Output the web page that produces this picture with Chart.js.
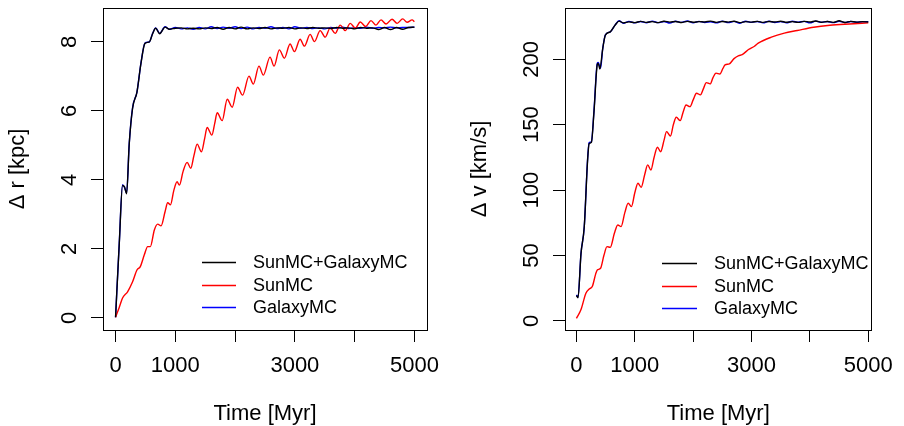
<!DOCTYPE html>
<html><head><meta charset="utf-8">
<script src="https://cdn.jsdelivr.net/npm/chart.js@4/dist/chart.umd.min.js"></script>
<style>
html,body{margin:0;padding:0;background:#fff;}
#wrap{position:relative;width:904px;height:426px;overflow:hidden;}
.panel{position:absolute;top:0;width:452px;height:426px;}
canvas{display:block;}
</style></head><body>
<div id="wrap">
<div class="panel" style="left:0"><canvas id="c1" width="452" height="426"></canvas></div>
<div class="panel" style="left:452px"><canvas id="c2" width="452" height="426"></canvas></div>
</div>
<script>
// ---------- labels ----------
const seriesNames = ['SunMC+GalaxyMC', 'SunMC', 'GalaxyMC'];
const xTickValues = [0, 1000, 2000, 3000, 4000, 5000];
const xTickLabels = ['0', '1000', '', '3000', '', '5000'];
const drTickValues = [0, 2, 4, 6, 8];
const dvTickValues = [0, 50, 100, 150, 200];
const xTitle = 'Time [Myr]';
const drTitle = 'Δ r [kpc]';
const dvTitle = 'Δ v [km/s]';

// ---------- Δr panel ----------
const drBothT = [0,62,117,150,185,229,285,358,425,492,565,620,671,738,828,900,1000,1100,1200,1300,1400,1500,1600,1700,1800,1900,2000,2100,2200,2300,2400,2500,2600,2700,2800,2900,3000,3100,3200,3300,3400,3500,3600,3700,3800,3900,4000,4100,4200,4300,4400,4500,4600,4700,4800,4900,5000];
const drBothV = [0.02,2.15,3.84,3.80,3.60,5.05,6.08,6.55,7.38,7.96,8.00,8.24,8.40,8.24,8.43,8.37,8.40,8.41,8.38,8.40,8.38,8.41,8.39,8.42,8.37,8.42,8.38,8.43,8.38,8.41,8.39,8.42,8.38,8.41,8.40,8.42,8.38,8.41,8.39,8.42,8.40,8.41,8.39,8.42,8.40,8.41,8.38,8.42,8.40,8.41,8.36,8.42,8.36,8.42,8.37,8.42,8.43];
const drSunT = [0,60,117,201,285,358,414,481,537,582,649,705,761,828,872,918,975,1029,1068,1130,1197,1258,1310,1365,1437,1490,1532,1611,1660,1700,1784,1868,1952,2041,2125,2232,2304,2399,2472,2584,2651,2740,2824,2919,2992,3087,3160,3255,3327,3423,3507,3591,3674,3758,3842,3926,4010,4094,4183,4273,4357,4441,4525,4625,4709,4804,4877,4961,5000];
const drSunV = [0.02,0.30,0.58,0.76,1.05,1.39,1.49,1.83,2.07,2.07,2.55,2.72,2.67,3.08,3.34,3.28,3.70,3.95,3.85,4.25,4.51,4.34,4.70,5.04,4.82,5.20,5.52,5.30,5.65,5.95,5.72,6.34,6.11,6.69,6.46,7.01,6.78,7.30,7.04,7.56,7.30,7.77,7.53,7.94,7.72,8.08,7.88,8.22,8.01,8.33,8.14,8.41,8.25,8.49,8.33,8.54,8.40,8.58,8.45,8.62,8.49,8.64,8.52,8.66,8.54,8.67,8.57,8.64,8.59];
const drGalT = [0,62,117,150,185,229,285,358,425,492,565,620,671,738,828,900,1000,1100,1200,1300,1400,1500,1600,1700,1800,1900,2000,2100,2200,2300,2400,2500,2600,2700,2800,2900,3000,3100,3200,3300,3400,3500,3600,3700,3800,3900,4000,4100,4200,4300,4400,4500,4600,4700,4800,4900,5000];
const drGalV = [0.02,2.17,3.86,3.78,3.62,5.06,6.10,6.55,7.39,7.97,8.00,8.25,8.41,8.25,8.44,8.37,8.42,8.38,8.41,8.37,8.42,8.38,8.44,8.39,8.43,8.40,8.44,8.39,8.43,8.38,8.42,8.40,8.44,8.39,8.42,8.38,8.44,8.40,8.42,8.39,8.41,8.38,8.42,8.40,8.43,8.39,8.41,8.40,8.43,8.40,8.42,8.41,8.43,8.41,8.42,8.42,8.43];

// ---------- Δv panel ----------
const dvBothT = [0,27,78,134,190,217,256,301,357,373,401,450,496,580,664,731,803,900,1000,1100,1200,1300,1400,1500,1600,1700,1800,1900,2000,2100,2200,2300,2400,2500,2600,2700,2800,2900,3000,3100,3200,3300,3400,3500,3600,3700,3800,3900,4000,4100,4200,4300,4400,4500,4600,4700,4800,4900,5000];
const dvBothV = [19.5,17.8,51.5,72,122,135.5,136.5,160,196,197,192.5,208,218.5,221,226.2,229.2,227.8,228.6,228.0,229.0,228.2,228.8,228.0,229.1,228.4,228.9,228.1,229.0,228.3,228.8,228.5,229.2,228.2,228.9,228.4,229.1,228.0,228.8,228.4,229.0,228.2,228.9,228.5,229.1,228.3,228.8,228.2,229.0,228.5,229.3,228.3,228.9,228.2,229.4,228.1,229.0,228.4,228.8,228.5];
const dvSunT = [0,80,162,220,273,330,357,413,470,524,580,650,708,764,830,886,942,1000,1054,1109,1170,1221,1276,1330,1388,1443,1500,1544,1611,1660,1711,1778,1830,1878,1945,2000,2057,2124,2180,2224,2291,2340,2391,2458,2510,2547,2620,2700,2781,2840,2948,3050,3115,3339,3562,3784,4064,4343,4677,5000];
const dvSunV = [2.0,9.0,21.2,24.5,26.5,36.0,39.0,40.3,50.0,56.8,56.3,67.0,73.4,72.1,83.0,90.0,87.4,98.0,105.3,102.2,112.0,119.3,115.4,125.0,132.8,129.4,138.0,144.7,141.4,150.0,155.7,153.1,160.0,165.1,163.8,169.0,174.1,172.8,178.0,182.2,181.2,186.0,189.4,188.8,193.0,195.7,196.5,200.5,202.8,203.5,207.5,210.0,212.3,216.9,220.0,222.0,224.5,226.0,227.0,227.8];
const dvGalT = [0,27,78,134,190,217,256,301,357,373,413,450,496,580,664,731,803,900,1000,1100,1200,1300,1400,1500,1600,1700,1800,1900,2000,2100,2200,2300,2400,2500,2600,2700,2800,2900,3000,3100,3200,3300,3400,3500,3600,3700,3800,3900,4000,4100,4200,4300,4400,4500,4600,4700,4800,4900,5000];
const dvGalV = [19.9,18.1,51.7,72,123,136.3,137,161,197,197.5,193.2,208,218.7,221,226.3,229.4,227.6,229.0,227.8,228.9,227.9,229.2,228.0,228.9,227.7,229.1,228.2,229.3,227.9,229.0,228.1,228.7,227.8,229.2,228.0,229.0,227.6,229.1,228.2,228.9,227.8,229.2,228.1,228.8,227.9,229.1,228.3,229.0,227.8,229.2,228.2,228.9,228.0,229.0,228.1,228.9,228.3,228.6,228.8];

const seriesColors = ['#000000', '#ff0000', '#0000ff'];
const FONT = '"Liberation Sans", Arial, Helvetica, sans-serif';
const AXIS_FONT = 22;
const LEGEND_FONT = 18;

function pts(t, v) { return t.map((x, i) => ({x: x, y: v[i]})); }

const boxPlugin = {
  id: 'rbox',
  afterDraw(chart) {
    const a = chart.chartArea, ctx = chart.ctx;
    ctx.save();
    ctx.strokeStyle = '#000'; ctx.lineWidth = 1;
    ctx.strokeRect(Math.round(a.left) + 0.5, Math.round(a.top) + 0.5, Math.round(a.right - a.left), Math.round(a.bottom - a.top));
    ctx.restore();
  }
};

const yLabelPlugin = {
  id: 'ylabels',
  afterDraw(chart, args, opts) {
    const ctx = chart.ctx, s = chart.scales.y;
    ctx.save();
    ctx.fillStyle = '#000';
    ctx.font = opts.size + 'px ' + FONT;
    ctx.textAlign = 'center';
    ctx.textBaseline = 'alphabetic';
    s.ticks.forEach(t => {
      const y = s.getPixelForValue(t.value);
      ctx.save();
      ctx.translate(opts.x, y);
      ctx.rotate(-Math.PI / 2);
      ctx.fillText(String(t.value), 0, 0);
      ctx.restore();
    });
    ctx.restore();
  }
};

const legendPlugin = {
  id: 'rlegend',
  afterDraw(chart, args, o) {
    const ctx = chart.ctx, a = chart.chartArea;
    ctx.save();
    ctx.font = o.size + 'px ' + FONT;
    ctx.textAlign = 'left';
    ctx.textBaseline = 'middle';
    chart.data.datasets.forEach((ds, i) => {
      const y = Math.round(a.top + o.top + i * o.gap) + 0.5;
      ctx.strokeStyle = ds.borderColor;
      ctx.lineWidth = 1.3;
      ctx.beginPath();
      ctx.moveTo(a.left + o.lineStart, y);
      ctx.lineTo(a.left + o.lineStart + o.lineLen, y);
      ctx.stroke();
      ctx.fillStyle = '#000';
      ctx.fillText(ds.label, a.left + o.textStart, y + 1);
    });
    ctx.restore();
  }
};

function makeChart(id, cfg) {
  const datasets = cfg.series.map((s, i) => ({
    label: seriesNames[i],
    data: pts(s[0], s[1]),
    borderColor: seriesColors[i],
    backgroundColor: seriesColors[i],
    borderWidth: 1.4,
    pointRadius: 0,
    cubicInterpolationMode: 'monotone',
    fill: false
  }));
  return new Chart(document.getElementById(id), {
    type: 'line',
    data: {datasets: datasets},
    plugins: [boxPlugin, yLabelPlugin, legendPlugin],
    options: {
      responsive: false,
      animation: false,
      devicePixelRatio: 1,
      layout: {padding: {left: 0, right: 25, top: 8, bottom: 0}},
      plugins: {
        legend: {display: false},
        tooltip: {enabled: false},
        ylabels: {x: cfg.yLabelX, size: AXIS_FONT},
        rlegend: cfg.legend
      },
      scales: {
        x: {
          type: 'linear',
          min: cfg.xMin, max: cfg.xMax,
          afterFit(s) { s.height = 96; },
          afterBuildTicks(s) { s.ticks = xTickValues.map(v => ({value: v})); },
          border: {display: false},
          grid: {drawOnChartArea: false, drawTicks: true, tickLength: 12, color: '#000', lineWidth: 1},
          ticks: {
            color: '#000', font: {family: FONT, size: AXIS_FONT}, padding: 11,
            maxRotation: 0, minRotation: 0, autoSkip: false,
            callback: (v, i) => xTickLabels[i]
          },
          title: {display: true, text: xTitle, color: '#000', font: {family: FONT, size: AXIS_FONT}, padding: {top: 0, bottom: -1}}
        },
        y: {
          type: 'linear',
          min: cfg.yMin, max: cfg.yMax,
          afterFit(s) { s.width = cfg.yWidth; },
          afterBuildTicks(s) { s.ticks = cfg.yTicks.map(v => ({value: v})); },
          border: {display: false},
          grid: {drawOnChartArea: false, drawTicks: true, tickLength: 12, color: '#000', lineWidth: 1},
          ticks: {display: false},
          title: {display: true, text: cfg.yTitle, color: '#000', font: {family: FONT, size: AXIS_FONT}, padding: {top: cfg.yTitlePad, bottom: 0}}
        }
      }
    }
  });
}

makeChart('c1', {
  series: [[drBothT, drBothV], [drSunT, drSunV], [drGalT, drGalV]],
  xMin: -210, xMax: 5210, yMin: -0.348, yMax: 8.985,
  yWidth: 103, yTicks: drTickValues, yTitle: drTitle, yTitlePad: 5, yLabelX: 76,
  legend: {size: LEGEND_FONT, top: 254, gap: 22.5, lineStart: 99, lineLen: 34, textStart: 150}
});
makeChart('c2', {
  series: [[dvBothT, dvBothV], [dvSunT, dvSunV], [dvGalT, dvGalV]],
  xMin: -196, xMax: 5055, yMin: -6.88, yMax: 239.2,
  yWidth: 113, yTicks: dvTickValues, yTitle: dvTitle, yTitlePad: 15, yLabelX: 86,
  legend: {size: LEGEND_FONT, top: 255, gap: 22.5, lineStart: 97, lineLen: 35, textStart: 149}
});
</script>
</body></html>
